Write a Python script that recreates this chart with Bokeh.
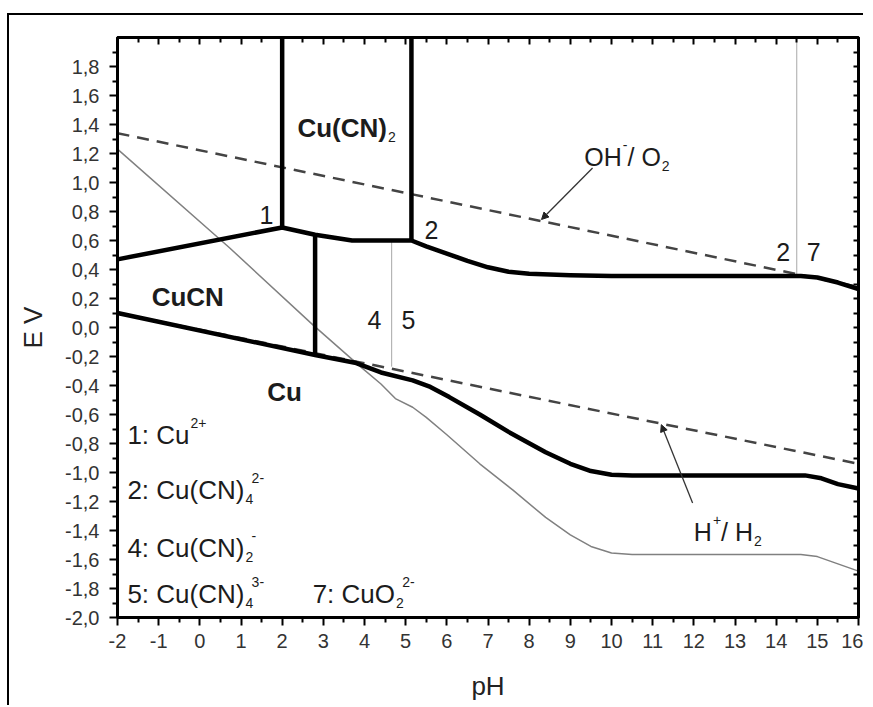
from bokeh.plotting import figure
from bokeh.models import (Range1d, FixedTicker, LinearAxis, CustomJSTickFormatter,
                          ColumnDataSource, Arrow, NormalHead)
from bokeh.core.properties import value, field
from bokeh.embed import file_html
from bokeh.resources import INLINE

# ---------------- data ----------------
PH_TICKS = [-2, -1, 0, 1, 2, 3, 4, 5, 6, 7, 8, 9, 10, 11, 12, 13, 14, 15, 16]
PH_MINOR = [-1.5, -0.5, 0.5, 1.5, 2.5, 3.5, 4.5, 5.5, 6.5, 7.5, 8.5, 9.5, 10.5,
            11.5, 12.5, 13.5, 14.5, 15.5]
E_TICKS = [-2.0, -1.8, -1.6, -1.4, -1.2, -1.0, -0.8, -0.6, -0.4, -0.2, 0.0,
           0.2, 0.4, 0.6, 0.8, 1.0, 1.2, 1.4, 1.6, 1.8]
E_MINOR = [-1.9, -1.7, -1.5, -1.3, -1.1, -0.9, -0.7, -0.5, -0.3, -0.1, 0.1,
           0.3, 0.5, 0.7, 0.9, 1.1, 1.3, 1.5, 1.7, 1.9]

# upper thick boundary
UPPER_PH = [-2.0, 2.0, 2.8, 3.7, 5.14, 5.5, 6.0, 6.5, 7.0, 7.5, 8.0, 9.0, 10.0,
            14.6, 15.0, 15.5, 16.0]
UPPER_E = [0.47, 0.69, 0.64, 0.60, 0.60, 0.56, 0.51, 0.46, 0.415, 0.385, 0.37,
           0.36, 0.355, 0.355, 0.345, 0.31, 0.265]

# lower thick boundary (Cu metal)
LOWER_PH = [-2.0, 2.8, 3.8, 4.4, 5.17, 5.6, 6.06, 6.8, 7.5, 8.4, 9.0, 9.5,
            10.0, 10.5, 14.7, 15.1, 15.5, 16.0]
LOWER_E = [0.10, -0.19, -0.245, -0.31, -0.365, -0.41, -0.48, -0.60, -0.72,
           -0.86, -0.94, -0.99, -1.015, -1.02, -1.02, -1.04, -1.08, -1.11]

# vertical thick boundaries
VERT_PH = [2.0, 5.14, 2.8]
VERT_TOP = [2.0, 2.0, 0.64]
VERT_BOT = [0.69, 0.60, -0.19]

# thin grey curve
THIN_PH = [-2.0, 0.72, 2.74, 3.9, 4.4, 4.75, 5.17, 5.5, 6.0, 6.8, 7.6, 8.4,
           9.0, 9.5, 10.0, 10.5, 14.6, 15.0, 15.5, 16.0]
THIN_E = [1.23, 0.55, 0.02, -0.27, -0.39, -0.49, -0.55, -0.62, -0.74, -0.94,
          -1.12, -1.31, -1.43, -1.51, -1.555, -1.565, -1.565, -1.58, -1.63, -1.68]

# water stability lines (dashed)
O2_PH = [-2.0, 16.0]
O2_E = [1.34, 0.28]
H2_PH = [-2.0, 16.0]
H2_E = [0.10, -0.94]

# thin vertical separators
SEP_PH = [4.66, 14.5]
SEP_TOP = [0.60, 2.0]
SEP_BOT = [-0.27, 0.355]

# leader arrows
ARR_X0 = [9.54, 11.97]
ARR_Y0 = [1.10, -1.21]
ARR_X1 = [8.30, 11.21]
ARR_Y1 = [0.745, -0.67]

# labels: (pH, E, parts, size, bold)
LABELS = [
    (2.37, 1.378, [("Cu(CN)", "n"), ("2", "sub")], 26, True),
    (-1.17, 0.21, [("CuCN", "n")], 26, True),
    (1.64, -0.446, [("Cu", "n")], 26, True),
    (1.45, 0.777, [("1", "n")], 25, False),
    (5.46, 0.674, [("2", "n")], 25, False),
    (4.07, 0.052, [("4", "n")], 25, False),
    (4.90, 0.052, [("5", "n")], 25, False),
    (14.0, 0.521, [("2", "n")], 25, False),
    (14.74, 0.521, [("7", "n")], 25, False),
    (9.34, 1.178, [("OH", "n"), ("-", "sup"), ("/ O", "n"), ("2", "sub")], 25, False),
    (12.0, -1.41, [("H", "n"), ("+", "sup"), ("/ H", "n"), ("2", "sub")], 25, False),
    (-1.76, -0.743, [("1: Cu", "n"), ("2+", "sup")], 26, False),
    (-1.76, -1.123, [("2: Cu(CN)", "n"), ("4", "sub"), ("2-", "sup")], 26, False),
    (-1.76, -1.524, [("4: Cu(CN)", "n"), ("2", "sub"), ("-", "sup")], 26, False),
    (-1.76, -1.835, [("5: Cu(CN)", "n"), ("4", "sub"), ("3-", "sup")], 26, False),
    (2.74, -1.835, [("7: CuO", "n"), ("2", "sub"), ("2-", "sup")], 26, False),
]

# ---------------- helpers ----------------
W_REG = {c: 556 for c in "0123456789"}
W_REG.update({":": 278, " ": 278, "C": 722, "u": 556, "(": 333, ")": 333,
              "N": 722, "O": 778, "H": 722, "/": 278, "-": 333, "+": 584})
W_BOLD = dict(W_REG)
W_BOLD.update({"u": 611})


def tw(s, size, bold=False):
    t = W_BOLD if bold else W_REG
    return sum(t.get(c, 556) for c in s) / 1000.0 * size


SUB_SIZE = 14
tx, ty, tt, txo, tyo, tsz, tst = [], [], [], [], [], [], []
for (lx, ly, parts, size, bold) in LABELS:
    cur = 0.0
    last_sub = None
    for text, kind in parts:
        if kind == "n":
            tx.append(lx); ty.append(ly); tt.append(text); txo.append(cur)
            tyo.append(0); tsz.append(f"{size}px"); tst.append("bold" if bold else "normal")
            cur += tw(text, size, bold)
            last_sub = None
        elif kind == "sub":
            w = tw(text, SUB_SIZE)
            tx.append(lx); ty.append(ly); tt.append(text); txo.append(cur + 1)
            tyo.append(9); tsz.append(f"{SUB_SIZE}px"); tst.append("normal")
            last_sub = (cur + 1, w)
            cur += w + 1
        else:  # sup
            w = tw(text, SUB_SIZE)
            start = (last_sub[0] + last_sub[1] * 0.8) if last_sub else cur + 1
            tx.append(lx); ty.append(ly); tt.append(text); txo.append(start)
            tyo.append(-12); tsz.append(f"{SUB_SIZE}px"); tst.append("normal")
            cur = max(cur, start + w)
            last_sub = None

# ---------------- figure ----------------
FONT = "Liberation Sans"
p = figure(width=856, height=692, x_range=Range1d(-2, 16), y_range=Range1d(-2.0, 2.0),
           output_backend="svg", toolbar_location=None,
           min_border_left=108, min_border_top=22, min_border_right=7, min_border_bottom=90)
p.styles = {"border-top": "2px solid #000", "border-left": "2px solid #000",
            "margin-left": "7px", "margin-top": "13px", "margin-bottom": "-16px"}
p.grid.visible = False
p.background_fill_color = "white"
p.border_fill_color = "white"
p.outline_line_color = "black"
p.outline_line_width = 3

xa = p.xaxis[0]
xa.ticker = FixedTicker(ticks=PH_TICKS, minor_ticks=PH_MINOR)
xa.formatter = CustomJSTickFormatter(code="return tick.toFixed(0);")
xa.axis_label = "pH"
ya = p.yaxis[0]
ya.ticker = FixedTicker(ticks=E_TICKS, minor_ticks=E_MINOR)
ya.formatter = CustomJSTickFormatter(code="return tick.toFixed(1).replace('.', ',');")
ya.axis_label = "E V"

for ax in (xa, ya):
    ax.axis_line_width = 3
    ax.axis_line_color = "black"
    ax.major_tick_line_width = 2
    ax.minor_tick_line_width = 2
    ax.major_tick_out = 8
    ax.major_tick_in = 0
    ax.minor_tick_out = 5
    ax.minor_tick_in = 0
    ax.major_label_text_font = FONT
    ax.major_label_text_font_size = "20px"
    ax.major_label_text_color = "#333333"
    ax.axis_label_text_font = FONT
    ax.axis_label_text_font_size = "26px"
    ax.axis_label_text_font_style = "normal"
    ax.axis_label_text_color = "#222222"
xa.major_label_standoff = 8
xa.axis_label_standoff = 20
ya.major_label_standoff = 10
ya.axis_label_standoff = 14

top = LinearAxis(ticker=FixedTicker(ticks=PH_TICKS, minor_ticks=PH_MINOR),
                 major_tick_in=7, major_tick_out=0, minor_tick_in=5, minor_tick_out=0,
                 major_label_text_font_size="1px", major_label_text_color=None,
                 major_label_standoff=0,
                 axis_line_width=3, major_tick_line_width=2, minor_tick_line_width=2)
right = LinearAxis(ticker=FixedTicker(ticks=E_TICKS, minor_ticks=E_MINOR),
                   major_tick_in=5, major_tick_out=0, minor_tick_in=5, minor_tick_out=0,
                   major_label_text_font_size="1px", major_label_text_color=None,
                   major_label_standoff=0,
                   axis_line_width=3, major_tick_line_width=2, minor_tick_line_width=2)
p.add_layout(top, "above")
p.add_layout(right, "right")

# separators
p.segment(x0=SEP_PH, y0=SEP_TOP, x1=SEP_PH, y1=SEP_BOT, line_color="#a8a8a8", line_width=1)
# thin grey curve
p.line(THIN_PH, THIN_E, line_color="#808080", line_width=1.5)
# dashed water lines
p.line(O2_PH, O2_E, line_color="#444444", line_width=2.5, line_dash="12 8")
p.line(H2_PH, H2_E, line_color="#444444", line_width=2.5, line_dash="12 8")
# thick boundaries
p.line(UPPER_PH, UPPER_E, line_color="black", line_width=4.5, line_join="round")
p.line(LOWER_PH, LOWER_E, line_color="black", line_width=4.5, line_join="round")
p.segment(x0=VERT_PH, y0=VERT_TOP, x1=VERT_PH, y1=VERT_BOT, line_color="black", line_width=4.5)

# leader arrows
for i in range(len(ARR_X0)):
    p.add_layout(Arrow(end=NormalHead(size=7, fill_color="#222222", line_color="#222222"),
                       x_start=ARR_X0[i], y_start=ARR_Y0[i], x_end=ARR_X1[i], y_end=ARR_Y1[i],
                       line_color="#333333", line_width=1.3))

src = ColumnDataSource(dict(x=tx, y=ty, text=tt, xo=txo, yo=tyo, size=tsz, style=tst))
p.text(x="x", y="y", text="text", source=src, x_offset="xo", y_offset="yo",
       text_font=value(FONT), text_font_size=field("size"), text_font_style=field("style"),
       text_color="#1c1c1c", text_align="left", text_baseline="alphabetic")

open("out.html", "w").write(file_html(p, INLINE))
